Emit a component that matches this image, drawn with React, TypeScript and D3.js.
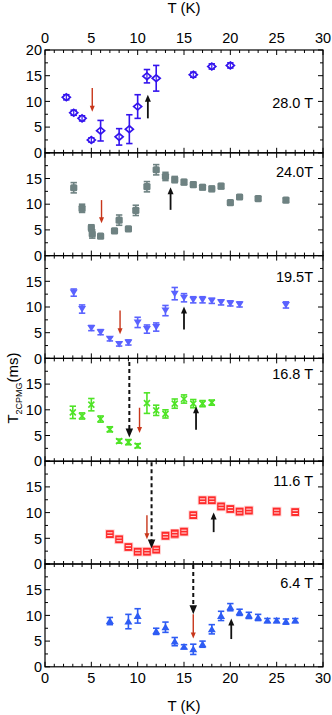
import React from "react";
import * as d3 from "d3";

// ---------- data ----------
const fields = ["28.0 T", "24.0T", "19.5T", "16.8 T", "11.6 T", "6.4 T"];

const t28 = [2.3, 3.1, 4.0, 5.0, 6.0, 8.0, 9.1, 10.0, 11.0, 12.0, 16.0, 18.0, 20.0];
const v28 = [10.8, 7.8, 6.7, 2.5, 4.3, 3.1, 4.6, 9.0, 14.9, 14.5, 15.2, 16.8, 17.0];
const e28 = [0.5, 0.5, 0.5, 0.4, 2.0, 1.6, 2.8, 2.3, 1.3, 2.5, 0.5, 0.5, 0.5];

const t24 = [3.1, 4.0, 5.0, 5.1, 6.0, 7.5, 8.0, 9.0, 9.8, 11.0, 12.0, 13.0, 14.0, 15.0, 16.0, 17.0, 18.0, 19.0, 20.0, 21.0, 23.0, 26.0];
const v24 = [13.2, 9.2, 5.4, 4.2, 3.8, 4.8, 6.9, 5.2, 8.8, 13.4, 16.7, 15.4, 14.8, 14.3, 13.8, 13.3, 13.0, 13.5, 10.3, 11.4, 11.1, 10.8];
const e24 = [1.0, 0.8, 0.6, 0.8, 0.3, 0.4, 1.0, 0.4, 1.0, 1.0, 1.0, 0.8, 0.6, 0.5, 0.5, 0.5, 0.5, 0.5, 0.4, 0.4, 0.4, 0.4];

const t195 = [3.1, 4.0, 5.0, 6.0, 7.0, 8.0, 9.0, 10.0, 11.0, 12.0, 13.0, 14.0, 15.0, 16.0, 17.0, 18.0, 19.0, 20.0, 21.0, 26.0];
const v195 = [12.8, 9.6, 5.9, 5.1, 3.8, 2.8, 3.1, 7.0, 5.7, 6.1, 9.3, 12.6, 11.8, 11.4, 11.4, 11.2, 10.9, 10.7, 10.5, 10.4];
const e195 = [0.7, 0.8, 0.5, 0.5, 0.4, 0.4, 0.5, 1.0, 0.8, 0.8, 1.0, 1.2, 0.8, 0.6, 0.6, 0.5, 0.5, 0.5, 0.5, 0.6];

const t168 = [3.0, 4.0, 5.0, 6.0, 7.0, 8.0, 9.0, 10.0, 11.0, 12.0, 13.0, 14.0, 15.0, 16.0, 17.0, 18.0];
const v168 = [9.5, 8.8, 11.0, 8.2, 6.2, 3.9, 3.7, 3.0, 11.3, 9.9, 9.2, 11.2, 12.1, 11.2, 11.2, 11.4];
const e168 = [1.2, 0.6, 1.2, 0.6, 0.5, 0.4, 0.5, 0.4, 2.0, 1.0, 0.8, 0.9, 0.8, 0.8, 0.6, 0.5];

const t116 = [7, 8, 9, 10, 11, 12, 13, 14, 15, 16, 17, 18, 19, 20, 21, 22, 25, 27];
const v116 = [5.8, 4.8, 3.3, 2.4, 2.4, 2.8, 5.5, 5.9, 6.3, 9.5, 12.4, 12.4, 11.2, 10.7, 10.2, 10.4, 10.2, 10.1];
const e116 = [0.5, 0.5, 0.5, 0.5, 0.5, 0.4, 0.8, 0.9, 0.5, 0.5, 0.6, 0.6, 0.5, 0.5, 0.5, 0.5, 0.5, 0.4];

const t64 = [7, 9, 10, 12, 13, 14, 15, 16, 17, 18, 19, 20, 21, 22, 23, 24, 25, 26, 27];
const v64 = [8.9, 8.8, 9.9, 6.9, 7.7, 4.9, 3.9, 3.4, 4.4, 7.3, 9.9, 11.6, 10.6, 10.0, 9.6, 9.0, 9.0, 8.8, 9.0];
const e64 = [0.7, 1.4, 1.4, 0.6, 1.0, 0.8, 0.4, 1.0, 0.6, 0.9, 0.9, 0.7, 0.6, 0.6, 0.6, 0.4, 0.4, 0.5, 0.4];

// arrows: [T, from value, to value]
const redArrows = [[5.1, 12.6, 8.0], [6.1, 10.8, 6.3], [8.1, 9.3, 4.7], [10.2, 10.4, 5.5], [11.0, 9.5, 4.8], [16.0, 10.2, 5.5]];
const blackArrows = [[11.1, 6.7, 11.3], [13.55, 8.9, 13.3], [15.0, 5.6, 10.1], [16.3, 6.1, 10.7], [18.2, 6.2, 10.0], [20.1, 5.4, 9.4]];
const dashedArrows = [null, null, null, [9.1, 19.3, 4.6], [11.5, 19.8, 3.0], [16.0, 19.8, 10.2]];

const xTicks = [0, 5, 10, 15, 20, 25, 30];

// ---------- layout / style ----------
const W = 332, H = 715;
const left = 45, right = 323, top0 = 50, ph = 102.8;
const FONT = "'Liberation Sans', Arial, Helvetica, sans-serif";

const series = [
  { t: t28, v: v28, e: e28, kind: "diamond", color: "#3414ee" },
  { t: t24, v: v24, e: e24, kind: "square", color: "#6e8282" },
  { t: t195, v: v195, e: e195, kind: "tridown", color: "#5a62ff" },
  { t: t168, v: v168, e: e168, kind: "xmark", color: "#4fe426" },
  { t: t116, v: v116, e: e116, kind: "opensq", color: "#ff2a2a" },
  { t: t64, v: v64, e: e64, kind: "triup", color: "#2e5cf4" },
];
const labelOffset = [53, 19, 21, 15, 20, 19];

const x = d3.scaleLinear().domain([0, 30]).range([left, right]);

function Marker({ kind, cx, cy, color }: any) {
  const s = 3.4;
  switch (kind) {
    case "diamond":
      return (
        <g>
          <path d={`M${cx},${cy - s}L${cx + s + 0.6},${cy}L${cx},${cy + s}L${cx - s - 0.6},${cy}Z`}
            fill="white" stroke={color} strokeWidth={1.7} />
          <line x1={cx} x2={cx} y1={cy - s} y2={cy + s} stroke={color} strokeWidth={1.2} />
        </g>
      );
    case "square":
      return <rect x={cx - 3.6} y={cy - 3.6} width={7.2} height={7.2} rx={1.5} fill={color} />;
    case "tridown":
      return <path d={`M${cx - 4},${cy - 3}L${cx + 4},${cy - 3}L${cx},${cy + 3.5}Z`} fill={color} />;
    case "triup":
      return <path d={`M${cx - 4},${cy + 3}L${cx + 4},${cy + 3}L${cx},${cy - 3.8}Z`} fill={color} />;
    case "xmark":
      return (
        <g stroke={color} strokeWidth={1.6}>
          <line x1={cx - 3} y1={cy - 3} x2={cx + 3} y2={cy + 3} />
          <line x1={cx - 3} y1={cy + 3} x2={cx + 3} y2={cy - 3} />
        </g>
      );
    case "opensq":
      return (
        <g>
          <rect x={cx - 4.8} y={cy - 4.8} width={9.6} height={9.6} fill="#ffb0b0" opacity={0.6} />
          <rect x={cx - 3.8} y={cy - 3.8} width={7.6} height={7.6} fill={color} />
          <line x1={cx - 2.6} y1={cy - 1.4} x2={cx + 2.6} y2={cy - 1.4} stroke="#fff" strokeWidth={0.9} />
          <line x1={cx - 2.6} y1={cy + 1.4} x2={cx + 2.6} y2={cy + 1.4} stroke="#fff" strokeWidth={0.9} />
        </g>
      );
  }
  return null;
}

function Arrow({ x0, y0, y1, color, head, width, dashed, sw }: any) {
  const dir = y1 > y0 ? 1 : -1;
  const base = y1 - dir * head;
  return (
    <g>
      <line x1={x0} x2={x0} y1={y0} y2={base + dir * 1} stroke={color} strokeWidth={sw}
        strokeDasharray={dashed ? "4,3" : undefined} />
      <path d={`M${x0 - width / 2},${base}L${x0 + width / 2},${base}L${x0},${y1}Z`} fill={color} />
    </g>
  );
}

function Panel({ i }: any) {
  const top = top0 + i * ph;
  const y = d3.scaleLinear().domain([0, 20]).range([top + ph, top]);
  const s = series[i];
  const minorX = d3.range(0, 31, 1);
  const minorY = d3.range(0, 20.01, 2.5);
  const yLabels = i === 0 ? [0, 5, 10, 15, 20] : [0, 5, 10, 15];
  const capW = 3.2;
  const ra = redArrows[i];
  const ba = blackArrows[i];
  const da = dashedArrows[i];
  const isRed = s.kind === "opensq";
  return (
    <g>
      <rect x={left} y={top} width={right - left} height={ph} fill="none" stroke="#000" strokeWidth={1.2} />
      {minorX.map((t) => {
        const L = t % 5 === 0 ? 5 : 3;
        return (
          <g key={"x" + t} stroke="#000" strokeWidth={1}>
            <line x1={x(t)} x2={x(t)} y1={top} y2={top + L} />
            <line x1={x(t)} x2={x(t)} y1={top + ph} y2={top + ph - L} />
          </g>
        );
      })}
      {minorY.map((v) => {
        const L = v % 5 === 0 ? 5 : 3;
        return (
          <g key={"y" + v} stroke="#000" strokeWidth={1}>
            <line x1={left} x2={left + L} y1={y(v)} y2={y(v)} />
            <line x1={right} x2={right - L} y1={y(v)} y2={y(v)} />
          </g>
        );
      })}
      {yLabels.map((v) => (
        <text key={"yl" + v} x={left - 3} y={y(v)} dy="0.36em" textAnchor="end" fontSize={14.5} fontFamily={FONT}>
          {v}
        </text>
      ))}
      <text x={313} y={top + labelOffset[i]} dy="0.36em" textAnchor="end" fontSize={14.5} fontFamily={FONT}>
        {fields[i]}
      </text>
      {s.t.map((t, k) => {
        const cx = x(t), cy = y(s.v[k]);
        const y1 = y(s.v[k] + s.e[k]), y2 = y(s.v[k] - s.e[k]);
        return (
          <g key={"p" + k}>
            {!isRed && (
              <g stroke={s.color} strokeWidth={1.6}>
                <line x1={cx} x2={cx} y1={y1} y2={y2} />
                <line x1={cx - capW} x2={cx + capW} y1={y1} y2={y1} />
                <line x1={cx - capW} x2={cx + capW} y1={y2} y2={y2} />
              </g>
            )}
            {isRed && (
              <rect x={cx - 3.8} y={Math.min(y1, cy - 3.8)} width={7.6} height={Math.max(y2, cy + 3.8) - Math.min(y1, cy - 3.8)} fill={s.color} />
            )}
            <Marker kind={s.kind} cx={cx} cy={cy} color={s.color} />
          </g>
        );
      })}
      {da && <Arrow x0={x(da[0])} y0={y(da[1])} y1={y(da[2])} color="#111" head={9} width={7.5} dashed sw={2} />}
      <Arrow x0={x(ra[0])} y0={y(ra[1])} y1={y(ra[2])} color="#c8361a" head={6} width={5} sw={1.4} />
      <Arrow x0={x(ba[0])} y0={y(ba[1])} y1={y(ba[2])} color="#111" head={7} width={6} sw={1.8} />
    </g>
  );
}

export default function App() {
  const bottom = top0 + 6 * ph;
  return (
    <svg width={W} height={H} style={{ position: "absolute", left: 0, top: 0, background: "#fff" }}>
      <rect x={0} y={0} width={W} height={H} fill="#fff" />
      {d3.range(6).map((i) => <Panel key={i} i={i} />)}
      {xTicks.map((t) => (
        <g key={"xt" + t}>
          <text x={x(t)} y={38} textAnchor="middle" dy="0.36em" fontSize={14.5} fontFamily={FONT}>{t}</text>
          <text x={x(t)} y={bottom + 11} textAnchor="middle" dy="0.36em" fontSize={14.5} fontFamily={FONT}>{t}</text>
        </g>
      ))}
      <text x={(left + right) / 2} y={8} dy="0.36em" textAnchor="middle" fontSize={15} fontFamily={FONT}>T (K)</text>
      <text x={(left + right) / 2} y={706} dy="0.36em" textAnchor="middle" fontSize={15} fontFamily={FONT}>T (K)</text>
      <text transform={`translate(13,388) rotate(-90)`} textAnchor="middle" fontSize={15} fontFamily={FONT} dy="0.36em">
        T<tspan fontSize={9} dy="4">2CPMG</tspan><tspan dy="-4">(ms)</tspan>
      </text>
    </svg>
  );
}
